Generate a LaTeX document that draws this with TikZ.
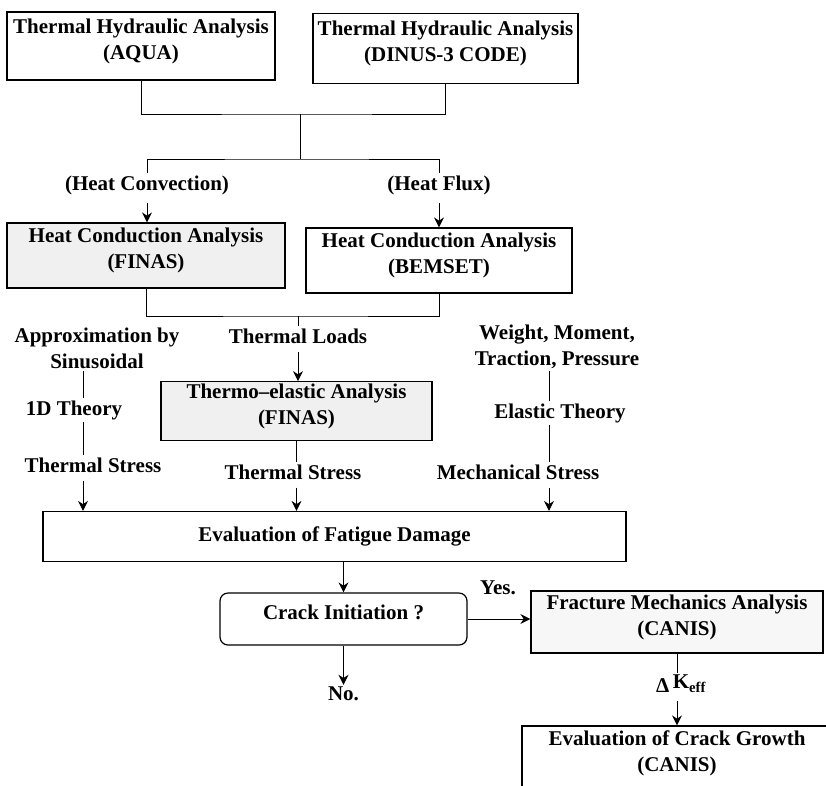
\documentclass[tikz,border=0pt]{standalone}
\usepackage{fontspec}
\setmainfont{Liberation Serif}
\usetikzlibrary{arrows.meta}
\begin{document}
\begin{tikzpicture}[x=1pt,y=-1pt,>={Stealth[length=10pt,width=10pt]},
	every node/.style={font=\fontsize{21}{26}\selectfont\bfseries},
	box/.style={draw,line width=1.2pt,align=center,inner sep=2pt},
	lift/.style={execute at end node={\rule[-14pt]{0pt}{0pt}}},
	shade/.style={box,lift,fill=gray!12},
	txt/.style={align=center,inner sep=2pt},
	link/.style={line width=1pt},
	arr/.style={link,->,shorten <=6pt}]
	\useasboundingbox (0,0) rectangle (826,785);
	\clip (0,0) rectangle (826,785);
	% thermal hydraulics
	\node[box,lift,minimum width=268pt,minimum height=68pt] (aqua) at (141,46) {Thermal Hydraulic Analysis\\(AQUA)};
	\node[box,lift,minimum width=265pt,minimum height=70pt] (dinus) at (445.5,48.5) {Thermal Hydraulic Analysis\\(DINUS-3 CODE)};
	\coordinate (j1) at (300,114);
	\coordinate (j2) at (300,159);
	\draw[link] (aqua.south) |- (j1) -| (dinus.south);
	\draw[link] (j1) -- (j2);
	\node[txt] (conv) at (147,185) {(Heat Convection)};
	\node[txt] (flux) at (439,185) {(Heat Flux)};
	\draw[link] (conv.north) |- (j2) -| (flux.north);
	% heat conduction
	\node[shade,minimum width=278pt,minimum height=65pt] (hcf) at (146,255.5) {Heat Conduction Analysis\\(FINAS)};
	\node[box,lift,minimum width=266pt,minimum height=65pt] (hcb) at (439,260.5) {Heat Conduction Analysis\\(BEMSET)};
	\draw[arr] (conv.south) -- (conv.south |- hcf.north);
	\draw[arr] (flux.south) -- (flux.south |- hcb.north);
	\coordinate (j3) at (298,316);
	\draw[link] (hcf.south) |- (j3) -| (hcb.south);
	\node[txt] (loads) at (298,336) {Thermal Loads};
	\draw[link] (j3) -- (loads.north);
	\node[shade,minimum width=271pt,minimum height=58pt] (thermo) at (296.5,411) {Thermo--elastic Analysis\\(FINAS)};
	\draw[arr] (loads.south) -- (loads.south |- thermo.north);
	% fatigue
	\node[box,minimum width=583pt,minimum height=50pt] (fat) at (334.5,536.5) {Evaluation of Fatigue Damage};
	% left column
	\coordinate (lc) at (83,0);
	\node[txt] (approx) at (97,348) {Approximation by\\Sinusoidal};
	\node[txt] (oned) at (74,410) {1D Theory};
	\node[txt] (tsl) at (93,465) {Thermal Stress};
	\draw[link] (lc |- approx.south) -- (lc |- oned.north);
	\draw[link] (lc |- oned.south) -- (lc |- tsl.north);
	\draw[arr] (lc |- tsl.south) -- (lc |- fat.north);
	% middle column
	\node[txt] (tsm) at (293,472) {Thermal Stress};
	\draw[link] (thermo.south) -- (thermo.south |- tsm.north);
	\draw[arr] (thermo.south |- tsm.south) -- (thermo.south |- fat.north);
	% right column
	\coordinate (rc) at (549,0);
	\node[txt] (weight) at (557,347) {Weight, Moment,\\Traction, Pressure};
	\node[txt] (elastic) at (560,413) {Elastic Theory};
	\node[txt] (mech) at (518,472) {Mechanical Stress};
	\draw[link] (rc |- weight.south) -- (rc |- elastic.north);
	\draw[link] (rc |- elastic.south) -- (rc |- mech.north);
	\draw[arr] (rc |- mech.south) -- (rc |- fat.north);
	% crack
	\node[box,lift,rounded corners=8pt,minimum width=247pt,minimum height=52pt] (crack) at (343.5,619) {Crack Initiation ?};
	\draw[link,->] (fat.south -| crack.north) -- (crack.north);
	\node[txt] (no) at (343.5,694) {No.};
	\draw[link,->] (crack.south) -- (crack.south |- no.north);
	\node[box,lift,fill=gray!6,minimum width=292pt,minimum height=62pt] (frac) at (677,622) {Fracture Mechanics Analysis\\(CANIS)};
	\draw[link,->] (crack.east) -- (crack.east -| frac.west);
	\node[txt] (yes) at (498,588) {Yes.};
	\node[txt] (dk) at (681,684) {Δ\,\raisebox{4pt}{K\textsubscript{eff}}};
	\node[box,lift,minimum width=310pt,minimum height=64pt] (growth) at (677,758) {Evaluation of Crack Growth\\(CANIS)};
	\draw[link] (frac.south) -- (frac.south |- dk.north);
	\draw[arr] (frac.south |- dk.south) -- (growth.north);
\end{tikzpicture}
\end{document}
